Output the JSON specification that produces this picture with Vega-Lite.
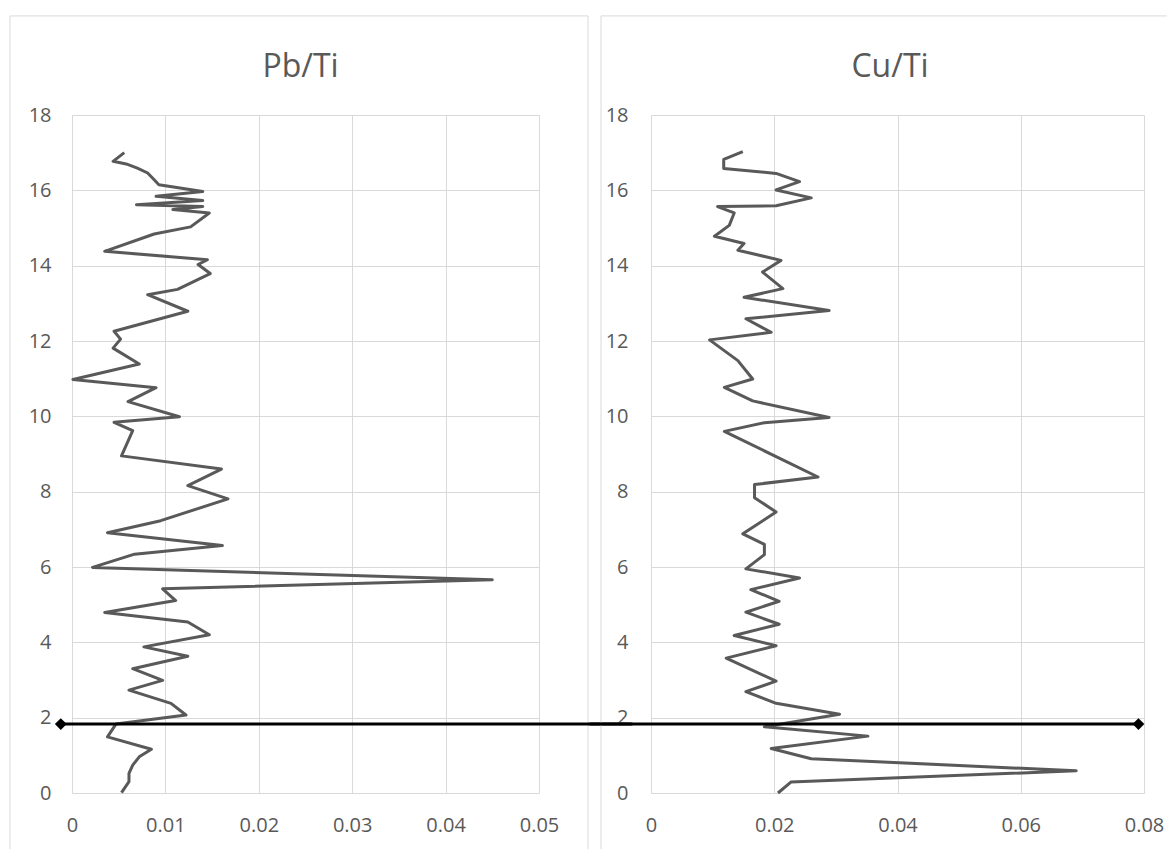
{
  "$schema": "https://vega.github.io/schema/vega-lite/v6.json",
  "background": "white",
  "padding": {"left": 9, "top": 15, "right": 0, "bottom": 0},
  "bounds": "flush",
  "spacing": 112,
  "datasets": {
    "pb": [
      {"depth": 17.0, "value": 0.0056}, {"depth": 16.77, "value": 0.0044}, {"depth": 16.7, "value": 0.0058},
      {"depth": 16.59, "value": 0.007}, {"depth": 16.46, "value": 0.0081}, {"depth": 16.28, "value": 0.0088},
      {"depth": 16.15, "value": 0.0093}, {"depth": 15.97, "value": 0.014}, {"depth": 15.84, "value": 0.009},
      {"depth": 15.73, "value": 0.014}, {"depth": 15.62, "value": 0.0069}, {"depth": 15.57, "value": 0.014},
      {"depth": 15.49, "value": 0.0108}, {"depth": 15.4, "value": 0.0147}, {"depth": 15.03, "value": 0.0127},
      {"depth": 14.84, "value": 0.0088}, {"depth": 14.38, "value": 0.0035}, {"depth": 14.16, "value": 0.0145},
      {"depth": 14.03, "value": 0.0135}, {"depth": 13.79, "value": 0.0148}, {"depth": 13.37, "value": 0.0113},
      {"depth": 13.23, "value": 0.0081}, {"depth": 12.79, "value": 0.0124}, {"depth": 12.26, "value": 0.0045},
      {"depth": 12.05, "value": 0.0052}, {"depth": 11.81, "value": 0.0044}, {"depth": 11.39, "value": 0.0072},
      {"depth": 10.98, "value": 0.0001}, {"depth": 10.76, "value": 0.009}, {"depth": 10.39, "value": 0.006},
      {"depth": 9.99, "value": 0.0115}, {"depth": 9.84, "value": 0.0045}, {"depth": 9.62, "value": 0.0065},
      {"depth": 8.95, "value": 0.0053}, {"depth": 8.6, "value": 0.016}, {"depth": 8.16, "value": 0.0124},
      {"depth": 7.81, "value": 0.0167}, {"depth": 7.23, "value": 0.0095}, {"depth": 6.91, "value": 0.0038},
      {"depth": 6.57, "value": 0.0161}, {"depth": 6.34, "value": 0.0067}, {"depth": 5.99, "value": 0.0022},
      {"depth": 5.66, "value": 0.045}, {"depth": 5.42, "value": 0.0097}, {"depth": 5.11, "value": 0.0111},
      {"depth": 4.79, "value": 0.0035}, {"depth": 4.54, "value": 0.0124}, {"depth": 4.2, "value": 0.0147},
      {"depth": 3.88, "value": 0.0077}, {"depth": 3.63, "value": 0.0124}, {"depth": 3.3, "value": 0.0065},
      {"depth": 2.99, "value": 0.0097}, {"depth": 2.73, "value": 0.0061}, {"depth": 2.38, "value": 0.0106},
      {"depth": 2.07, "value": 0.0122}, {"depth": 1.83, "value": 0.0047}, {"depth": 1.49, "value": 0.0038},
      {"depth": 1.16, "value": 0.0085}, {"depth": 0.96, "value": 0.0072}, {"depth": 0.74, "value": 0.0065},
      {"depth": 0.52, "value": 0.0061}, {"depth": 0.3, "value": 0.0061}, {"depth": 0.01, "value": 0.0053}
    ],
    "cu": [
      {"depth": 17.03, "value": 0.0149}, {"depth": 16.82, "value": 0.0118}, {"depth": 16.58, "value": 0.0118},
      {"depth": 16.45, "value": 0.0203}, {"depth": 16.23, "value": 0.0241}, {"depth": 16.01, "value": 0.0203},
      {"depth": 15.8, "value": 0.026}, {"depth": 15.59, "value": 0.0203}, {"depth": 15.57, "value": 0.0108},
      {"depth": 15.4, "value": 0.0135}, {"depth": 15.07, "value": 0.0127}, {"depth": 14.78, "value": 0.0103},
      {"depth": 14.59, "value": 0.0151}, {"depth": 14.41, "value": 0.0141}, {"depth": 14.14, "value": 0.0211},
      {"depth": 13.83, "value": 0.0181}, {"depth": 13.39, "value": 0.0214}, {"depth": 13.16, "value": 0.0151},
      {"depth": 12.81, "value": 0.0289}, {"depth": 12.59, "value": 0.0154}, {"depth": 12.23, "value": 0.0195},
      {"depth": 12.03, "value": 0.0095}, {"depth": 11.48, "value": 0.0141}, {"depth": 10.99, "value": 0.0165},
      {"depth": 10.77, "value": 0.0119}, {"depth": 10.41, "value": 0.0165}, {"depth": 9.97, "value": 0.0289},
      {"depth": 9.83, "value": 0.0184}, {"depth": 9.6, "value": 0.0119}, {"depth": 8.39, "value": 0.0271},
      {"depth": 8.19, "value": 0.0168}, {"depth": 7.84, "value": 0.0168}, {"depth": 7.46, "value": 0.0203},
      {"depth": 6.88, "value": 0.0149}, {"depth": 6.6, "value": 0.0184}, {"depth": 6.33, "value": 0.0184},
      {"depth": 5.95, "value": 0.0154}, {"depth": 5.71, "value": 0.0241}, {"depth": 5.4, "value": 0.0162},
      {"depth": 5.09, "value": 0.0208}, {"depth": 4.8, "value": 0.0154}, {"depth": 4.48, "value": 0.0208},
      {"depth": 4.18, "value": 0.0135}, {"depth": 3.91, "value": 0.0203}, {"depth": 3.58, "value": 0.0122},
      {"depth": 2.97, "value": 0.0203}, {"depth": 2.69, "value": 0.0154}, {"depth": 2.38, "value": 0.0203},
      {"depth": 2.09, "value": 0.0306}, {"depth": 1.76, "value": 0.0184}, {"depth": 1.51, "value": 0.0352},
      {"depth": 1.18, "value": 0.0195}, {"depth": 0.91, "value": 0.026}, {"depth": 0.59, "value": 0.069},
      {"depth": 0.29, "value": 0.0227}, {"depth": 0.0, "value": 0.0206}
    ]
  },
  "hconcat": [
    {
      "width": 467,
      "height": 678,
      "title": {"text": "Pb/Ti", "frame": "group", "anchor": "middle", "dx": -5, "offset": -93.5, "baseline": "alphabetic"},
      "layer": [
        {
          "data": {"values": [{}]},
          "mark": {"type": "rule", "color": "#d9d9d9", "strokeWidth": 1},
          "encoding": {
            "x": {"datum": -0.00664, "type": "quantitative", "scale": {"domain": [0, 0.05], "nice": false, "zero": false}},
            "y": {"datum": -1.49, "type": "quantitative", "scale": {"domain": [0, 18], "nice": false, "zero": false}},
            "y2": {"datum": 20.63}
          }
        },
        {
          "data": {"values": [{}]},
          "mark": {"type": "rule", "color": "#d9d9d9", "strokeWidth": 1},
          "encoding": {
            "x": {"datum": 0.05525, "type": "quantitative"},
            "y": {"datum": -1.49, "type": "quantitative"},
            "y2": {"datum": 20.63}
          }
        },
        {
          "data": {"values": [{}]},
          "mark": {"type": "rule", "color": "#d9d9d9", "strokeWidth": 1},
          "encoding": {
            "x": {"datum": -0.00664, "type": "quantitative"},
            "x2": {"datum": 0.05525},
            "y": {"datum": 20.63, "type": "quantitative"}
          }
        },
        {
          "data": {"name": "pb"},
          "mark": {"type": "line", "color": "#595959", "strokeWidth": 3, "strokeJoin": "round"},
          "encoding": {
            "x": {
              "field": "value", "type": "quantitative",
              "scale": {"domain": [0, 0.05], "nice": false, "zero": false},
              "axis": {"values": [0, 0.01, 0.02, 0.03, 0.04, 0.05], "format": "~g", "labelPadding": 22}
            },
            "y": {
              "field": "depth", "type": "quantitative",
              "scale": {"domain": [0, 18], "nice": false, "zero": false},
              "axis": {"values": [0, 2, 4, 6, 8, 10, 12, 14, 16, 18], "format": "~g", "labelPadding": 21}
            },
            "order": {"field": "depth", "sort": "descending"}
          }
        },
        {
          "data": {"values": [{}]},
          "mark": {"type": "rule", "color": "black", "strokeWidth": 3},
          "encoding": {
            "x": {"datum": -0.0012, "type": "quantitative"},
            "x2": {"datum": 0.06},
            "y": {"datum": 1.83, "type": "quantitative"}
          }
        },
        {
          "data": {"values": [{}]},
          "mark": {"type": "point", "shape": "diamond", "filled": true, "color": "black", "size": 140, "opacity": 1},
          "encoding": {
            "x": {"datum": -0.0012, "type": "quantitative"},
            "y": {"datum": 1.83, "type": "quantitative"}
          }
        }
      ]
    },
    {
      "width": 493,
      "height": 678,
      "title": {"text": "Cu/Ti", "frame": "group", "anchor": "middle", "dx": -7.5, "offset": -93.5, "baseline": "alphabetic"},
      "layer": [
        {
          "data": {"values": [{}]},
          "mark": {"type": "rule", "color": "#d9d9d9", "strokeWidth": 1},
          "encoding": {
            "x": {"datum": -0.00811, "type": "quantitative", "scale": {"domain": [0, 0.08], "nice": false, "zero": false}},
            "y": {"datum": -1.49, "type": "quantitative", "scale": {"domain": [0, 18], "nice": false, "zero": false}},
            "y2": {"datum": 20.63}
          }
        },
        {
          "data": {"values": [{}]},
          "mark": {"type": "rule", "color": "#d9d9d9", "strokeWidth": 1},
          "encoding": {
            "x": {"datum": -0.00811, "type": "quantitative"},
            "x2": {"datum": 0.0837},
            "y": {"datum": 20.63, "type": "quantitative"}
          }
        },
        {
          "data": {"name": "cu"},
          "mark": {"type": "line", "color": "#595959", "strokeWidth": 3, "strokeJoin": "round"},
          "encoding": {
            "x": {
              "field": "value", "type": "quantitative",
              "scale": {"domain": [0, 0.08], "nice": false, "zero": false},
              "axis": {"values": [0, 0.02, 0.04, 0.06, 0.08], "format": "~g", "labelPadding": 22}
            },
            "y": {
              "field": "depth", "type": "quantitative",
              "scale": {"domain": [0, 18], "nice": false, "zero": false},
              "axis": {"values": [0, 2, 4, 6, 8, 10, 12, 14, 16, 18], "format": "~g", "labelPadding": 23}
            },
            "order": {"field": "depth", "sort": "descending"}
          }
        },
        {
          "data": {"values": [{}]},
          "mark": {"type": "rule", "color": "black", "strokeWidth": 3},
          "encoding": {
            "x": {"datum": -0.01, "type": "quantitative"},
            "x2": {"datum": 0.0791},
            "y": {"datum": 1.83, "type": "quantitative"}
          }
        },
        {
          "data": {"values": [{}]},
          "mark": {"type": "point", "shape": "diamond", "filled": true, "color": "black", "size": 140, "opacity": 1},
          "encoding": {
            "x": {"datum": 0.0791, "type": "quantitative"},
            "y": {"datum": 1.83, "type": "quantitative"}
          }
        }
      ]
    }
  ],
  "config": {
    "view": {"stroke": null},
    "axis": {
      "title": null,
      "domain": false,
      "ticks": false,
      "grid": true,
      "gridColor": "#d9d9d9",
      "gridWidth": 1,
      "labelFont": "Open Sans",
      "labelFontSize": 20,
      "labelColor": "#595959",
      "labelFlush": false,
      "labelOverlap": false,
      "labelBound": false
    },
    "title": {"font": "Open Sans", "fontSize": 32, "fontWeight": "normal", "color": "#595959"}
  }
}
